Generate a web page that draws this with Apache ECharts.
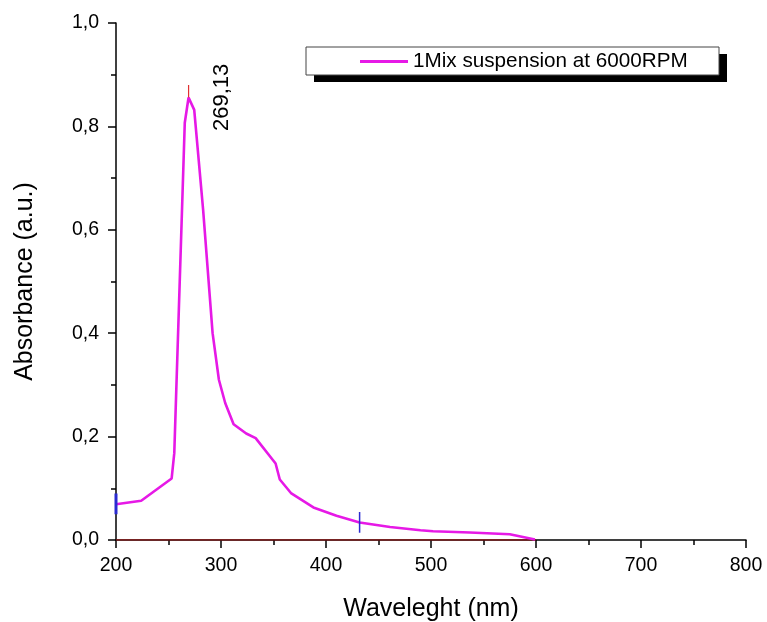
<!DOCTYPE html>
<html><head><meta charset="utf-8">
<script src="https://cdn.jsdelivr.net/npm/echarts@6/dist/echarts.min.js"></script>
<style>html,body{margin:0;padding:0;background:#fff}#c{width:767px;height:622px}</style>
</head><body><div id="c"></div>
<script>
const wavelength = [200, 224, 253, 255.5, 265.5, 269.1, 274.5, 283, 292, 298, 304, 312, 324, 333, 352, 356, 367, 388, 410, 432, 461, 490, 502, 537, 575, 599];
const absorbance = [0.069, 0.076, 0.119, 0.168, 0.807, 0.856, 0.832, 0.638, 0.40, 0.31, 0.265, 0.224, 0.206, 0.197, 0.148, 0.117, 0.090, 0.063, 0.047, 0.034, 0.025, 0.019, 0.017, 0.0145, 0.011, 0.001];
const seriesName = '1Mix suspension at 6000RPM';
const peakLabel = '269,13';
const peakX = 269.13;
const baselineX = [200, 600];
const baselineY = [0, 0];
const peakMarkY = [0.856, 0.88];
const cursor1X = 200, cursor1Y = [0.05, 0.09];
const cursor2X = 432, cursor2Y = [0.014, 0.054];
const xTicks = [200, 300, 400, 500, 600, 700, 800];
const yTicks = [0, 0.2, 0.4, 0.6, 0.8, 1.0];

const chart = echarts.init(document.getElementById('c'), null, {renderer: 'canvas'});
const font = 'Liberation Sans, Arial, sans-serif';
const LEG = {x: 306, y: 47, w: 413, h: 28};
chart.setOption({
  animation: false,
  backgroundColor: '#fff',
  grid: {left: 116, right: 21, top: 23, bottom: 82, containLabel: false, outerBoundsMode: 'none'},
  graphic: [
    {type: 'rect', z: 90, shape: {x: LEG.x + 8, y: LEG.y + 7, width: LEG.w, height: LEG.h}, style: {fill: '#000'}},
    {type: 'rect', z: 91, shape: {x: LEG.x, y: LEG.y, width: LEG.w, height: LEG.h}, style: {fill: '#fff', stroke: '#444', lineWidth: 1}}
  ],
  legend: {
    data: [seriesName],
    left: LEG.x + 54, top: LEG.y + 4, z: 100,
    padding: 0,
    itemWidth: 48, itemHeight: 3, itemGap: 7,
    textStyle: {fontFamily: font, fontSize: 20.7, color: '#000', padding: [0, 0, 0, 0]},
    icon: 'rect'
  },
  xAxis: {
    type: 'value', min: xTicks[0], max: xTicks[xTicks.length-1], interval: 100,
    name: 'Waveleght (nm)', nameLocation: 'middle', nameGap: 57,
    nameTextStyle: {fontFamily: font, fontSize: 25, color: '#000'},
    axisLine: {onZero: false, lineStyle: {color: '#000', width: 1.5}},
    axisTick: {inside: false, length: 8, lineStyle: {color: '#000', width: 1.5}},
    minorTick: {show: true, splitNumber: 2, length: 5, lineStyle: {color: '#000', width: 1.5}},
    axisLabel: {fontFamily: font, fontSize: 19.5, color: '#000', margin: 16},
    splitLine: {show: false}
  },
  yAxis: {
    type: 'value', min: yTicks[0], max: yTicks[yTicks.length-1], interval: 0.2,
    name: 'Absorbance (a.u.)', nameLocation: 'middle', nameGap: 78,
    nameTextStyle: {fontFamily: font, fontSize: 25, color: '#000'},
    axisLine: {show: true, onZero: false, lineStyle: {color: '#000', width: 1.5}},
    axisTick: {show: true, inside: false, length: 8, lineStyle: {color: '#000', width: 1.5}},
    minorTick: {show: true, splitNumber: 2, length: 5, lineStyle: {color: '#000', width: 1.5}},
    axisLabel: {fontFamily: font, fontSize: 19.5, color: '#000', margin: 17,
      formatter: v => v.toFixed(1).replace('.', ',')},
    splitLine: {show: false}
  },
  series: [
    {name: 'baseline', type: 'line', symbol: 'none', silent: true, z: 3,
     data: baselineX.map((x, i) => [x, baselineY[i]]),
     lineStyle: {color: '#8b1a1a', width: 1.5}},
    {name: seriesName, type: 'line', symbol: 'none', z: 5,
     data: wavelength.map((x, i) => [x, absorbance[i]]),
     lineStyle: {color: '#e619e6', width: 2.6}, itemStyle: {color: '#e619e6'}},
    {name: 'peakmark', type: 'line', symbol: 'none', silent: true, z: 6,
     data: peakMarkY.map(y => [peakX, y]),
     lineStyle: {color: '#e03030', width: 1.2}},
    {name: 'cursor1', type: 'line', symbol: 'none', silent: true, z: 6,
     data: cursor1Y.map(y => [cursor1X, y]),
     lineStyle: {color: '#2a2ad0', width: 3}},
    {name: 'cursor2', type: 'line', symbol: 'none', silent: true, z: 6,
     data: cursor2Y.map(y => [cursor2X, y]),
     lineStyle: {color: '#2a2ad0', width: 1.5}}
  ]
});
const p = chart.convertToPixel({xAxisIndex: 0, yAxisIndex: 0}, [peakX, peakMarkY[1]]);
chart.setOption({
  graphic: [{}, {}, {
    type: 'text', x: p[0] + 44, y: 131, rotation: Math.PI / 2, z: 50,
    style: {text: peakLabel, fontFamily: font, fontSize: 22, fill: '#000', textAlign: 'left', textVerticalAlign: 'bottom'}
  }]
});
</script></body></html>
